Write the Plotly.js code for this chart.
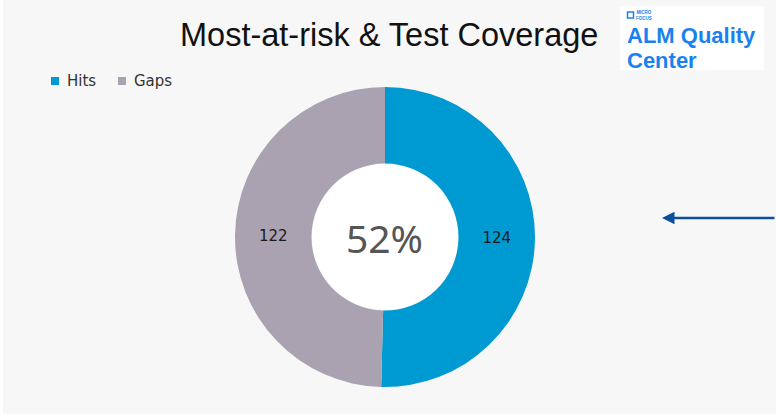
<!DOCTYPE html>
<html>
<head>
<meta charset="utf-8">
<script src="https://cdn.plot.ly/plotly-3.0.1.min.js"></script>
<style>html,body{margin:0;padding:0;background:#fff;}#chart{width:776px;height:418px;}</style>
</head>
<body>
<div id="chart"></div>
<script>
const categories = ["Hits", "Gaps"];
const values = [124, 122];
const colors = ["#009ad3", "#aaa1b1"];
const coverageText = "52%";
const chartTitle = "Most-at-risk & Test Coverage";

const W = 776, H = 418;
const px = x => x / W;
const py = y => 1 - y / H;

const trace = {
  type: "pie",
  labels: categories,
  values: values,
  marker: {colors: colors, line: {width: 0}},
  hole: 0.49,
  sort: false,
  direction: "clockwise",
  rotation: 0,
  textinfo: "value",
  textposition: "inside",
  insidetextorientation: "horizontal",
  textfont: {family: "DejaVu Sans, Noto Sans, sans-serif", size: 15, color: "#1a1a1a"},
  hoverinfo: "label+value",
  showlegend: false,
  domain: {x: [px(235), px(535)], y: [py(387), py(87)]}
};

// manual legend built from categories/colors
const legendX = [51, 118];
const legendShapes = categories.map((c, i) => ({
  type: "rect", xref: "paper", yref: "paper",
  x0: px(legendX[i]), x1: px(legendX[i] + 8), y0: py(85), y1: py(77),
  fillcolor: colors[i], line: {width: 0}, layer: "above"
}));
const legendAnn = categories.map((c, i) => ({
  text: c, xref: "paper", yref: "paper", x: px(legendX[i] + 14), y: py(81),
  xanchor: "left", yanchor: "middle", showarrow: false,
  font: {family: "DejaVu Sans, Noto Sans, sans-serif", size: 15, color: "#333"}
}));

const layout = {
  width: W, height: H,
  margin: {l: 0, r: 0, t: 0, b: 0},
  paper_bgcolor: "#ffffff",
  showlegend: false,
  shapes: [
    {type: "rect", xref: "paper", yref: "paper", x0: px(3), x1: 1, y0: py(414), y1: 1,
     fillcolor: "#f7f7f7", line: {width: 0}, layer: "below"},
    {type: "circle", xref: "paper", yref: "paper", x0: px(312), x1: px(458), y0: py(310), y1: py(164),
     fillcolor: "#ffffff", line: {width: 0}, layer: "below"},
    {type: "rect", xref: "paper", yref: "paper", x0: px(620), x1: px(764), y0: py(70), y1: py(6),
     fillcolor: "#ffffff", line: {width: 0}, layer: "below"},
    {type: "rect", xref: "paper", yref: "paper", x0: px(627.5), x1: px(633.5), y0: py(18), y1: py(12),
     fillcolor: "rgba(0,0,0,0)", line: {width: 1.5, color: "#1a82ee"}, layer: "above"}
  ].concat(legendShapes),
  annotations: [
    {text: chartTitle, xref: "paper", yref: "paper", x: px(388.5), y: py(35), xanchor: "center", yanchor: "middle",
     showarrow: false, font: {family: "Liberation Sans, Arial, sans-serif", size: 32.5, color: "#111"}},
    {text: coverageText, xref: "paper", yref: "paper", x: px(384), y: py(237), xanchor: "center", yanchor: "middle",
     showarrow: false, font: {family: "Noto Sans, DejaVu Sans, sans-serif", size: 39, color: "#555"}},
    {text: "<b>MICRO<br>FOCUS</b>", xref: "paper", yref: "paper", x: px(635), y: py(15), xanchor: "left", yanchor: "middle",
     showarrow: false, borderpad: 0,
     font: {family: "Liberation Sans, Arial, sans-serif", size: 4.5, color: "#1a82ee"}},
    {text: "<span style='font-size:22px'><b>ALM Quality</b></span><br><span style='font-size:22px'><b>Center</b></span>",
     xref: "paper", yref: "paper", x: px(626), y: py(21.5), xanchor: "left", yanchor: "top", align: "left",
     showarrow: false, borderpad: 0,
     font: {family: "Liberation Sans, Arial, sans-serif", size: 19.4, color: "#1a82ee"}},
    {text: "", xref: "paper", yref: "paper", x: px(662), y: py(218), ax: 120, ay: 0,
     showarrow: true, arrowhead: 2, arrowsize: 1, arrowwidth: 2.5, arrowcolor: "#0b4f9e"}
  ].concat(legendAnn)
};

Plotly.newPlot("chart", [trace], layout, {displayModeBar: false, staticPlot: true});
</script>
</body>
</html>
